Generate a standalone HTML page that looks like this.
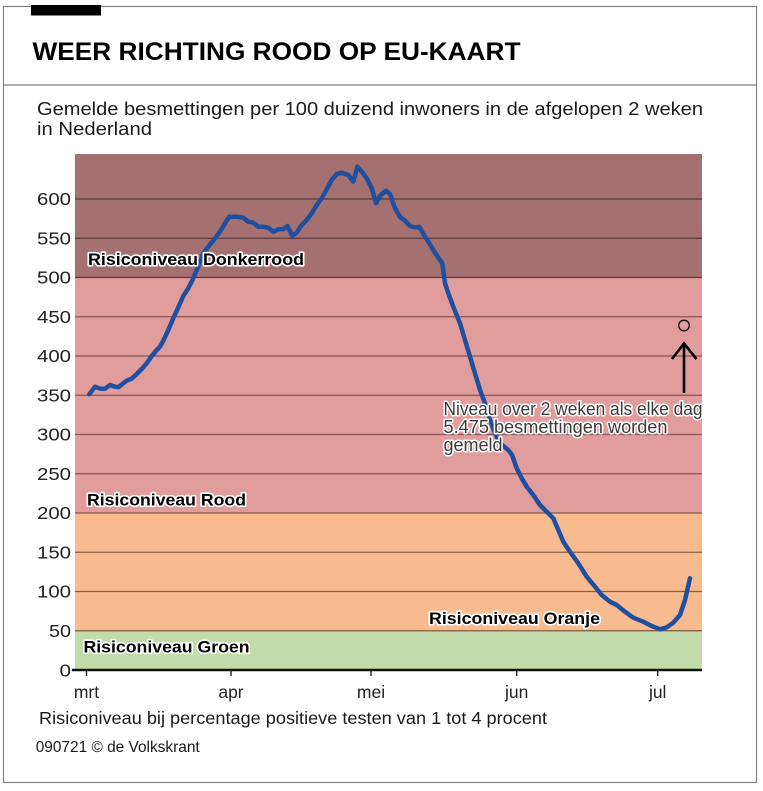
<!DOCTYPE html>
<html>
<head>
<meta charset="utf-8">
<style>
  html, body { margin:0; padding:0; background:#ffffff; }
  body { width:763px; height:791px; overflow:hidden; }
  svg { display:block; }
  text { font-family: "Liberation Sans", "DejaVu Sans", sans-serif; }
</style>
</head>
<body>
<svg width="763" height="791" viewBox="0 0 763 791" xmlns="http://www.w3.org/2000/svg">
  <rect x="0" y="0" width="763" height="791" fill="#ffffff"/>
  <!-- frame -->
  <rect x="3.5" y="6.5" width="753" height="776" fill="none" stroke="#808080" stroke-width="1.2"/>
  <line x1="3.5" y1="85" x2="756.5" y2="85" stroke="#808080" stroke-width="1.2"/>
  <rect x="31" y="5" width="70" height="10.5" fill="#000000"/>

  <!-- title -->
  <text x="32.5" y="60" font-size="25" font-weight="bold" fill="#000" textLength="488" lengthAdjust="spacingAndGlyphs">WEER RICHTING ROOD OP EU-KAART</text>
  <!-- subtitle -->
  <text x="37" y="115" font-size="18.5" fill="#1a1a1a" textLength="666" lengthAdjust="spacingAndGlyphs">Gemelde besmettingen per 100 duizend inwoners in de afgelopen 2 weken</text>
  <text x="37" y="135" font-size="18.5" fill="#1a1a1a" textLength="115" lengthAdjust="spacingAndGlyphs">in Nederland</text>

  <!-- bands -->
  <rect x="75" y="154" width="627" height="123.5" fill="#a57070"/>
  <rect x="75" y="277.5" width="627" height="235.5" fill="#e09d9b"/>
  <rect x="75" y="513" width="627" height="117.75" fill="#f8bb8f"/>
  <rect x="75" y="630.75" width="627" height="39.25" fill="#c2dbaa"/>

  <!-- gridlines -->
  <g stroke-width="1.3">
    <line x1="75" y1="199" x2="702" y2="199" stroke="#5c3a39"/>
    <line x1="75" y1="238.25" x2="702" y2="238.25" stroke="#5c3a39"/>
    <line x1="75" y1="277.5" x2="702" y2="277.5" stroke="#5c3a39"/>
    <line x1="75" y1="316.75" x2="702" y2="316.75" stroke="#855655"/>
    <line x1="75" y1="356" x2="702" y2="356" stroke="#855655"/>
    <line x1="75" y1="395.25" x2="702" y2="395.25" stroke="#855655"/>
    <line x1="75" y1="434.5" x2="702" y2="434.5" stroke="#855655"/>
    <line x1="75" y1="473.75" x2="702" y2="473.75" stroke="#855655"/>
    <line x1="75" y1="513" x2="702" y2="513" stroke="#855a50"/>
    <line x1="75" y1="552.25" x2="702" y2="552.25" stroke="#8c5e3c"/>
    <line x1="75" y1="591.5" x2="702" y2="591.5" stroke="#8c5e3c"/>
    <line x1="75" y1="630.75" x2="702" y2="630.75" stroke="#7d5a3c"/>
  </g>

  <!-- y labels -->
  <g font-size="17.5" fill="#222" text-anchor="end">
    <text x="71" y="205" textLength="34" lengthAdjust="spacingAndGlyphs">600</text>
    <text x="71" y="244.25" textLength="34" lengthAdjust="spacingAndGlyphs">550</text>
    <text x="71" y="283.5" textLength="34" lengthAdjust="spacingAndGlyphs">500</text>
    <text x="71" y="322.75" textLength="34" lengthAdjust="spacingAndGlyphs">450</text>
    <text x="71" y="362" textLength="34" lengthAdjust="spacingAndGlyphs">400</text>
    <text x="71" y="401.25" textLength="34" lengthAdjust="spacingAndGlyphs">350</text>
    <text x="71" y="440.5" textLength="34" lengthAdjust="spacingAndGlyphs">300</text>
    <text x="71" y="479.75" textLength="34" lengthAdjust="spacingAndGlyphs">250</text>
    <text x="71" y="519" textLength="34" lengthAdjust="spacingAndGlyphs">200</text>
    <text x="71" y="558.25" textLength="34" lengthAdjust="spacingAndGlyphs">150</text>
    <text x="71" y="597.5" textLength="34" lengthAdjust="spacingAndGlyphs">100</text>
    <text x="71" y="636.75" textLength="22" lengthAdjust="spacingAndGlyphs">50</text>
    <text x="71" y="676.5" textLength="11.5" lengthAdjust="spacingAndGlyphs">0</text>
  </g>

  <!-- axis -->
  <line x1="72" y1="670" x2="702" y2="670" stroke="#111" stroke-width="2.6"/>
  <g stroke="#222" stroke-width="1.4">
    <line x1="86.5" y1="670" x2="86.5" y2="676"/>
    <line x1="231" y1="670" x2="231" y2="676"/>
    <line x1="371" y1="670" x2="371" y2="676"/>
    <line x1="516.7" y1="670" x2="516.7" y2="676"/>
    <line x1="657.7" y1="670" x2="657.7" y2="676"/>
  </g>
  <g font-size="17.5" fill="#222" text-anchor="middle">
    <text x="86.5" y="698">mrt</text>
    <text x="231" y="698">apr</text>
    <text x="371" y="698">mei</text>
    <text x="516.7" y="698">jun</text>
    <text x="657.7" y="698">jul</text>
  </g>

  <!-- data line -->
  <polyline fill="none" stroke="#1f4fa0" stroke-width="4.5" stroke-linejoin="round" stroke-linecap="round"
    points="89.3,394.3 95,386.7 100,388.7 105,388.7 110,385 115,386.7 118.3,387.3 123.3,383.3 126.7,380.7 131.7,378.7 136.7,374 141.7,369 146.7,363.3 151.7,356 156.7,350 160,346.7 163.3,340.7 168.3,330 173.3,318.3 178.3,307.3 183.3,296 188.3,288.3 193.3,278.3 196.7,270 200,261.7 203.3,253.3 208.3,246.7 215,238.3 220,231.7 225,223.3 229.3,216.7 236.7,216.7 243.3,217.7 248.3,221.7 253.3,222.7 258.3,226.7 263.3,226.7 268.3,227.7 273.3,231.7 278.3,229.3 283.3,229.3 287.3,226 292.3,235.7 296.7,232.7 301.7,225 306.7,220 311.7,213.3 316.7,205 321.7,198.3 326.7,189.3 331.7,180 336.7,174 341.7,172.7 348.3,175 353.3,181.7 357.3,166.7 361.7,171.7 366.7,178.3 371.7,188.3 376,203.3 380.7,195 386,190.7 390,194 395,208.3 400,217 405,220.7 410,226 415,227.3 419.3,226.7 423.3,234 428.3,241.7 433.3,250 438.3,257.7 442.3,263.3 445,283.3 448.3,293.3 453.3,306.7 460,323.3 465,340 470,356.7 475,373.3 480,390 485,403.3 490,420 495,433.3 500,443.3 508.3,450 512,455 516.7,468.3 521.7,478.3 526.7,486.7 533.3,495 540,505 546.7,511.7 553.3,518.3 558.3,530 563.3,541.7 570,551.7 578.3,563.3 586.7,576.7 595,586.7 601.7,595 610,601.7 616.7,605 625,611.7 633.3,617.7 643.3,621.7 651.7,626 660,629.3 666.7,627.3 673.3,622.7 680,615 685,600 690,578.3"/>

  <!-- band labels -->
  <g font-size="16.5" font-weight="bold" fill="#000" stroke="#fff" stroke-width="3.2" stroke-linejoin="round" paint-order="stroke" style="paint-order:stroke">
    <text x="88" y="265" textLength="216" lengthAdjust="spacingAndGlyphs">Risiconiveau Donkerrood</text>
    <text x="87" y="505.7" textLength="159" lengthAdjust="spacingAndGlyphs">Risiconiveau Rood</text>
    <text x="83.5" y="652.7" textLength="166" lengthAdjust="spacingAndGlyphs">Risiconiveau Groen</text>
    <text x="429" y="624" textLength="171" lengthAdjust="spacingAndGlyphs">Risiconiveau Oranje</text>
  </g>

  <!-- annotation -->
  <circle cx="684" cy="325.5" r="5.3" fill="none" stroke="#111" stroke-width="1.3"/>
  <line x1="684" y1="393" x2="684" y2="344" stroke="#000" stroke-width="2.6"/>
  <polyline points="672,359 684,343.5 696.5,359" fill="none" stroke="#000" stroke-width="2.6"/>
  <g font-size="18" fill="#3a3a3a" stroke="#fff" stroke-width="3" stroke-linejoin="round" paint-order="stroke" style="paint-order:stroke">
    <text x="443.5" y="415" textLength="259" lengthAdjust="spacingAndGlyphs">Niveau over 2 weken als elke dag</text>
    <text x="443.5" y="433" textLength="224" lengthAdjust="spacingAndGlyphs">5.475 besmettingen worden</text>
    <text x="443.5" y="451" textLength="59" lengthAdjust="spacingAndGlyphs">gemeld</text>
  </g>

  <!-- footnotes -->
  <text x="39" y="724" font-size="17.5" fill="#1a1a1a" textLength="508" lengthAdjust="spacingAndGlyphs">Risiconiveau bij percentage positieve testen van 1 tot 4 procent</text>
  <text x="35.7" y="752" font-size="16" fill="#1a1a1a" textLength="164" lengthAdjust="spacingAndGlyphs">090721 © de Volkskrant</text>
</svg>
</body>
</html>
